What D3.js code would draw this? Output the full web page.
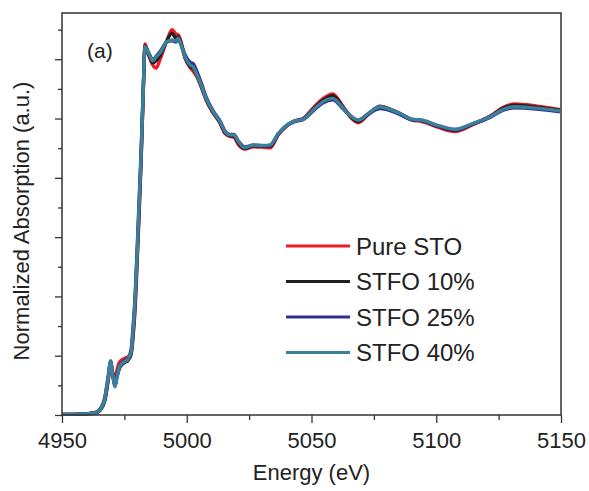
<!DOCTYPE html>
<html lang="en">
  <head>
    <meta charset="UTF-8" />
    <title>Normalized Absorption</title>
    <style>
      body {
        margin: 0;
        background: #fff;
        font-family: "Liberation Sans", Arial, sans-serif;
      }
    </style>
    <script src="https://d3js.org/d3.v7.min.js"></script>
  </head>
  <body>
  </body>
  <script>
    const energy = [4950, 4957.2, 4963.2, 4965.2, 4967.2, 4968.4, 4969.5, 4970.4, 4971.2, 4972.0,
      4973.2, 4974.8, 4976.5, 4977.7, 4978.5, 4979.3, 4980.5, 4981.7, 4982.5, 4983.3,
      4984.5, 4986.4, 4987.7, 4989.3, 4992.0, 4994.1, 4995.7, 4996.6, 4997.7, 4999.3,
      5001.3, 5002.6, 5004.1, 5006.0, 5008.0, 5010.6, 5013.3, 5015.3, 5017.3, 5018.9,
      5020.7, 5023.3, 5026.7, 5030.7, 5033.4, 5036.7, 5040.1, 5042.7, 5046.7, 5050.7,
      5054.7, 5058.5, 5062.7, 5066.1, 5068.8, 5072.8, 5077.5, 5081.5, 5085.5, 5090.2,
      5094.2, 5100.2, 5107.5, 5114.8, 5121.5, 5126.9, 5131.6, 5140.3, 5149.6]

    const pureSTO = [0.002, 0.003, 0.008, 0.018, 0.052, 0.110, 0.172, 0.140, 0.110, 0.150,
      0.180, 0.190, 0.196, 0.208, 0.262, 0.355, 0.590, 0.850, 1.070, 1.252,
      1.220, 1.180, 1.170, 1.200, 1.262, 1.300, 1.285, 1.282, 1.260, 1.205,
      1.172, 1.160, 1.140, 1.102, 1.058, 1.018, 0.985, 0.950, 0.940, 0.937,
      0.912, 0.897, 0.905, 0.903, 0.901, 0.945, 0.975, 0.990, 1.000, 1.036,
      1.068, 1.083, 1.040, 1.000, 0.986, 1.014, 1.042, 1.032, 1.016, 0.995,
      0.990, 0.972, 0.956, 0.980, 1.008, 1.038, 1.049, 1.042, 1.030]

    const stfo10 = [0.002, 0.003, 0.006, 0.015, 0.050, 0.112, 0.175, 0.135, 0.100, 0.130,
      0.160, 0.175, 0.185, 0.205, 0.275, 0.375, 0.610, 0.865, 1.075, 1.245,
      1.222, 1.188, 1.195, 1.212, 1.262, 1.288, 1.270, 1.276, 1.252, 1.205,
      1.176, 1.168, 1.144, 1.105, 1.060, 1.020, 0.987, 0.952, 0.942, 0.941,
      0.917, 0.899, 0.908, 0.906, 0.906, 0.948, 0.977, 0.990, 0.999, 1.032,
      1.062, 1.077, 1.038, 1.003, 0.990, 1.016, 1.041, 1.031, 1.017, 0.997,
      0.993, 0.975, 0.960, 0.982, 1.007, 1.035, 1.045, 1.038, 1.028]

    const stfo25 = [0.002, 0.003, 0.008, 0.019, 0.062, 0.125, 0.182, 0.130, 0.097, 0.128,
      0.168, 0.182, 0.192, 0.222, 0.300, 0.400, 0.640, 0.890, 1.085, 1.240,
      1.226, 1.198, 1.210, 1.226, 1.258, 1.262, 1.258, 1.268, 1.250, 1.215,
      1.190, 1.185, 1.158, 1.115, 1.068, 1.026, 0.992, 0.958, 0.946, 0.946,
      0.924, 0.904, 0.910, 0.908, 0.909, 0.947, 0.976, 0.988, 0.997, 1.026,
      1.053, 1.063, 1.032, 1.005, 0.995, 1.015, 1.034, 1.027, 1.013, 0.996,
      0.993, 0.976, 0.962, 0.982, 1.004, 1.028, 1.036, 1.032, 1.023]

    const stfo40 = [0.002, 0.003, 0.007, 0.017, 0.057, 0.118, 0.180, 0.132, 0.095, 0.125,
      0.165, 0.179, 0.189, 0.213, 0.287, 0.388, 0.624, 0.877, 1.080, 1.242,
      1.225, 1.195, 1.208, 1.221, 1.259, 1.265, 1.262, 1.271, 1.248, 1.209,
      1.181, 1.174, 1.147, 1.108, 1.063, 1.023, 0.990, 0.956, 0.945, 0.945,
      0.922, 0.902, 0.911, 0.909, 0.911, 0.950, 0.978, 0.990, 0.998, 1.029,
      1.057, 1.068, 1.035, 1.006, 0.995, 1.018, 1.040, 1.031, 1.017, 0.998,
      0.995, 0.978, 0.964, 0.984, 1.006, 1.031, 1.040, 1.035, 1.026]

    const seriesNames = ["Pure STO", "STFO 10%", "STFO 25%", "STFO 40%"]
    const seriesValues = [pureSTO, stfo10, stfo25, stfo40]
    const seriesColors = ["#ed1c24", "#231f20", "#2e3192", "#3c7f98"]

    const xMajor = [4950, 5000, 5050, 5100, 5150]
    const xMinor = [4975, 5025, 5075, 5125]
    const yMajor = [0, 0.2, 0.4, 0.6, 0.8, 1.0, 1.2]
    const yMinor = [0.1, 0.3, 0.5, 0.7, 0.9, 1.1, 1.3]

    const W = 589, H = 491
    const plotL = 62, plotR = 561, plotT = 13, plotB = 415

    const svg = d3.select("body").append("svg")
        .attr("width", W)
        .attr("height", H)

    const x = d3.scaleLinear().domain([4950, 5150]).range([plotL, plotR])
    const y = d3.scaleLinear().domain([0, 1.356]).range([plotB, plotT])

    const axisColor = "#333"

    // minor ticks first, then major ones with labels
    svg.append("g")
        .attr("transform", `translate(0,${plotB})`)
        .call(d3.axisBottom(x).tickValues(xMinor).tickSize(5).tickFormat(""))
    svg.append("g")
        .attr("transform", `translate(0,${plotB})`)
        .call(d3.axisBottom(x).tickValues(xMajor).tickSize(8).tickPadding(9).tickFormat(d3.format("d")))
    svg.append("g")
        .attr("transform", `translate(${plotL},0)`)
        .call(d3.axisLeft(y).tickValues(yMinor).tickSize(4).tickFormat(""))
    svg.append("g")
        .attr("transform", `translate(${plotL},0)`)
        .call(d3.axisLeft(y).tickValues(yMajor).tickSize(7).tickFormat(""))

    svg.selectAll(".domain").remove()
    svg.selectAll(".tick line").attr("stroke", axisColor).attr("stroke-width", 1.3)
    svg.selectAll(".tick text")
        .attr("fill", "#222")
        .style("font-size", "22px")
        .style("font-family", "'Liberation Sans', Arial, sans-serif")

    const line = d3.line()
        .curve(d3.curveMonotoneX)
        .x(d => x(d[0]))
        .y(d => y(d[1]))

    seriesValues.forEach((vals, i) => {
      svg.append("path")
          .datum(energy.map((e, j) => [e, vals[j]]))
          .attr("fill", "none")
          .attr("stroke", seriesColors[i])
          .attr("stroke-width", 3.4)
          .attr("stroke-linejoin", "round")
          .attr("d", line)
    })

    svg.append("rect")
        .attr("x", plotL)
        .attr("y", plotT)
        .attr("width", plotR - plotL)
        .attr("height", plotB - plotT)
        .attr("fill", "none")
        .attr("stroke", axisColor)
        .attr("stroke-width", 1.5)

    // legend
    const legend = svg.append("g").attr("transform", "translate(286,246)")
    seriesNames.forEach((name, i) => {
      const g = legend.append("g").attr("transform", `translate(0,${i * 35.5})`)
      g.append("line")
          .attr("x1", 0).attr("x2", 64)
          .attr("stroke", seriesColors[i])
          .attr("stroke-width", 3)
      g.append("text")
          .attr("x", 70)
          .attr("y", 8.5)
          .attr("fill", "#222")
          .style("font-size", "24px")
          .text(name)
    })

    svg.append("text")
        .attr("x", 87)
        .attr("y", 58)
        .attr("fill", "#222")
        .style("font-size", "21px")
        .text("(a)")

    svg.append("text")
        .attr("x", (plotL + plotR) / 2)
        .attr("y", 480)
        .attr("text-anchor", "middle")
        .attr("fill", "#222")
        .style("font-size", "22px")
        .text("Energy (eV)")

    svg.append("text")
        .attr("transform", `translate(29,${(plotT + plotB) / 2 + 7}) rotate(-90)`)
        .attr("text-anchor", "middle")
        .attr("fill", "#222")
        .style("font-size", "22px")
        .text("Normalized Absorption (a.u.)")
  </script>
</html>
